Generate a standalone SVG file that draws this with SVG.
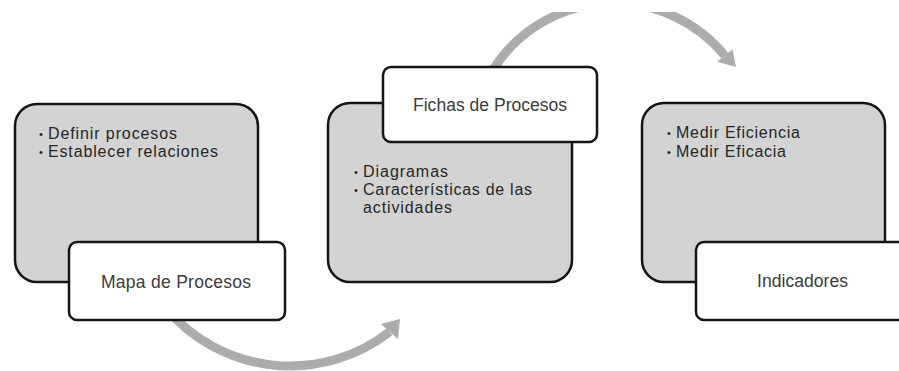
<svg xmlns="http://www.w3.org/2000/svg" width="899" height="371" viewBox="0 0 899 371">
<defs>
<style>
.box{fill:#d3d3d3;stroke:#151515;stroke-width:2.5}
.lbl{fill:#ffffff;stroke:#151515;stroke-width:2.5}
.arc{fill:none;stroke:#acacac;stroke-width:9}
.head{fill:#acacac}
.bt{font-family:"Liberation Sans",Arial,sans-serif;font-size:16px;fill:#262626}
.dot{font-family:"Liberation Sans",Arial,sans-serif;font-size:11px;fill:#262626}
.lt{font-family:"Liberation Sans",Arial,sans-serif;font-size:17.5px;fill:#3c3c3c;text-anchor:middle}
</style>
<clipPath id="topclip"><rect x="0" y="12" width="899" height="359"/></clipPath>
</defs>
<g id="connectors">
<path class="arc" d="M165.9,308.1 A162,162 0 0 0 389.7,331.7"/>
<polygon class="head" points="400,319 381,324 398,339"/>
<g clip-path="url(#topclip)">
<path class="arc" d="M492.7,70.2 A143,143 0 0 1 724.7,55.5"/>
<polygon class="head" points="736,67 732.4,49.2 717,61.8"/>
</g>
</g>
<g id="node-definir">
<rect class="box" x="15" y="104" width="243" height="178" rx="22"/>
<text class="dot" x="39" y="138">•</text>
<text class="bt" x="48" y="139" textLength="129" lengthAdjust="spacing">Definir procesos</text>
<text class="dot" x="39" y="156">•</text>
<text class="bt" x="48" y="157" textLength="170" lengthAdjust="spacing">Establecer relaciones</text>
</g>
<g id="node-mapa">
<rect class="lbl" x="69" y="242" width="216" height="78" rx="8"/>
<text class="lt" x="176" y="288" textLength="150" lengthAdjust="spacing">Mapa de Procesos</text>
</g>
<g id="node-diagramas">
<rect class="box" x="328" y="103" width="244" height="179" rx="22"/>
<text class="dot" x="354" y="176">•</text>
<text class="bt" x="363" y="177" textLength="85" lengthAdjust="spacing">Diagramas</text>
<text class="dot" x="354" y="194">•</text>
<text class="bt" x="363" y="195" textLength="169" lengthAdjust="spacing">Características de las</text>
<text class="bt" x="363" y="213" textLength="89" lengthAdjust="spacing">actividades</text>
</g>
<g id="node-fichas">
<rect class="lbl" x="383" y="67" width="214" height="75" rx="8"/>
<text class="lt" x="490" y="111" textLength="154" lengthAdjust="spacing">Fichas de Procesos</text>
</g>
<g id="node-medir">
<rect class="box" x="642" y="103" width="243" height="179" rx="22"/>
<text class="dot" x="667" y="137">•</text>
<text class="bt" x="676" y="138" textLength="124" lengthAdjust="spacing">Medir Eficiencia</text>
<text class="dot" x="667" y="156">•</text>
<text class="bt" x="676" y="157" textLength="110" lengthAdjust="spacing">Medir Eficacia</text>
</g>
<g id="node-indicadores">
<rect class="lbl" x="696" y="242" width="216" height="78" rx="8"/>
<text class="lt" x="802.5" y="287" textLength="91" lengthAdjust="spacing">Indicadores</text>
</g>
</svg>
